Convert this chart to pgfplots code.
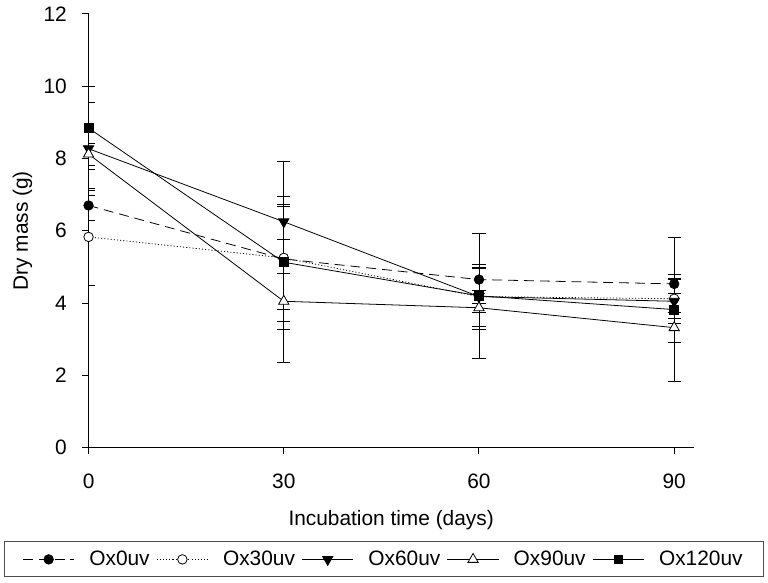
\documentclass[border=0pt]{standalone}
\usepackage{pgfplots}
\pgfplotsset{compat=1.18}
\usepackage{fontspec}
\setmainfont{Liberation Sans}
\begin{document}
\newcommand\fs{\fontsize{15.8}{18}\selectfont}
\pgfplotsset{eb/.style={error bars/.cd, y dir=both, y explicit,
  error bar style={solid,line width=0.6pt,black},
  error mark options={rotate=90,mark size=5pt,line width=0.6pt,solid,black}}}
\begin{tikzpicture}
\begin{axis}[
 name=ax,
 scale only axis,
 width=458.25pt, height=328.5pt,
 xmin=0, xmax=93, ymin=0, ymax=12,
 axis x line*=bottom, axis y line*=left,
 axis line style={-, line width=0.75pt},
 xtick={0,30,60,90}, ytick={0,2,...,12},
 xtick pos=bottom, ytick pos=left,
 xtick align=outside, ytick align=outside, major tick length=5pt,
 every tick/.style={black, line width=0.75pt},
 /pgf/number format/assume math mode=true,
 tick label style={font=\fs},
 xticklabel style={yshift=-11pt},
 yticklabel style={xshift=-8pt},
 label style={font=\fs},
 xlabel={Incubation time (days)},
 ylabel={Dry mass (g)},
 xlabel style={at={(axis description cs:0.5,-0.167)}, anchor=center},
 ylabel style={at={(axis description cs:-0.109,0.5)}, anchor=center},
 legend columns=5,
 legend style={at={(axis description cs:0.488,-0.2575)}, anchor=center, font=\fs,
   draw=black!70, line width=0.75pt, inner xsep=14pt, inner ysep=5pt,
   /tikz/every even column/.append style={column sep=3pt},
   /tikz/every odd column/.append style={column sep=9pt}},
 legend image code/.code={\draw[mark repeat=2,mark phase=2] plot coordinates {(0pt,0pt)(19.5pt,0pt)(39pt,0pt)};},
]
\coordinate (o) at (rel axis cs:0,0);
\addplot[black, line width=0.6pt, dash pattern=on 7.5pt off 4.5pt, mark=*, mark size=3.6pt, mark options={solid}, eb]
 coordinates {(0,6.70) +- (0,0.42) (30,5.22) +- (0,1.72) (60,4.65) +- (0,0.30) (90,4.53) +- (0,0.27)};
\addlegendentry{Ox0uv}
\addplot[black, line width=0.6pt, dash pattern=on 0.8pt off 1.6pt, mark=*, mark size=3.6pt, mark options={solid, fill=white}, eb]
 coordinates {(0,5.83) +- (0,1.35) (30,5.25) +- (0,1.42) (60,4.18) +- (0,0.90) (90,4.12) +- (0,0.55)};
\addlegendentry{Ox30uv}
\addplot[black, line width=0.6pt, mark=triangle*, mark size=4.5pt, mark options={solid, rotate=180}, eb]
 coordinates {(0,8.27) +- (0,1.28) (30,6.25) +- (0,0.48) (60,4.18) +- (0,0.82) (90,4.05) +- (0,0.60)};
\addlegendentry{Ox60uv}
\addplot[black, line width=0.6pt, mark=triangle*, mark size=4.5pt, mark options={solid, fill=white}, eb]
 coordinates {(0,8.12) +- (0,0.30) (30,4.05) +- (0,0.78) (60,3.87) +- (0,0.12) (90,3.32) +- (0,0.42)};
\addlegendentry{Ox90uv}
\addplot[black, line width=0.6pt, mark=square*, mark size=3.4pt, mark options={solid}, eb]
 coordinates {(0,8.84) +- (0,1.15) (30,5.13) +- (0,2.78) (60,4.20) +- (0,1.72) (90,3.82) +- (0,2.00)};
\addlegendentry{Ox120uv}
\end{axis}
\pgfresetboundingbox
\path[use as bounding box] (o) ++(-61.5pt,-102pt) rectangle ++(576pt,441pt);
\end{tikzpicture}
\end{document}
